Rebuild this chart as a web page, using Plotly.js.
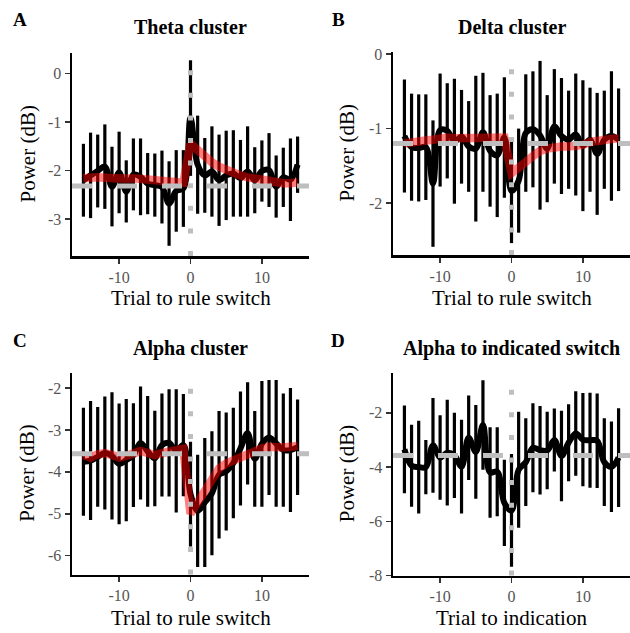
<!DOCTYPE html>
<html><head><meta charset="utf-8">
<script src="https://cdn.plot.ly/plotly-3.0.1.min.js"></script>
<style>html,body{margin:0;padding:0;background:#fff}#chart{width:630px;height:633px}</style>
</head><body><div id="chart"></div>
<script>
// ---- data ----
const trials = [-15,-14,-13,-12,-11,-10,-9,-8,-7,-6,-5,-4,-3,-2,-1,0,1,2,3,4,5,6,7,8,9,10,11,12,13,14,15];

const thetaMean = [-2.2,-2.1,-2.01,-1.92,-2.33,-2.04,-2.43,-2.08,-2.13,-2.27,-2.3,-2.34,-2.68,-2.42,-2.37,-0.92,-1.88,-2.1,-2.02,-2.2,-2.1,-2.06,-2.16,-2.02,-2.2,-2.01,-1.99,-2.33,-2.14,-2.19,-1.88];
const thetaErr  = [0.75,0.88,0.75,0.87,0.82,0.84,0.64,0.74,0.79,0.63,0.65,0.75,0.87,0.84,0.79,1.19,1.01,0.77,0.93,0.94,0.92,0.89,0.79,0.93,0.68,0.63,0.76,0.64,0.61,0.85,0.58];
const thetaFit  = [-2.16,-2.14,-2.14,-2.15,-2.17,-2.18,-2.17,-2.16,-2.17,-2.19,-2.21,-2.2,-2.19,-2.21,-2.25,-1.45,-1.58,-1.72,-1.83,-1.92,-1.99,-2.05,-2.1,-2.14,-2.17,-2.2,-2.22,-2.24,-2.26,-2.26,-2.24];

const deltaMean = [-1.1,-1.25,-1.26,-1.25,-1.74,-1.02,-1.03,-1.17,-1.11,-1.24,-1.27,-1.05,-1.3,-1.36,-1.12,-1.84,-1.7,-1.06,-1.01,-1.09,-1.27,-0.97,-1.1,-1.15,-1.08,-1.23,-1.15,-1.34,-1.15,-1.1,-1.15];
const deltaErr  = [0.76,0.72,0.72,0.71,0.85,0.76,0.64,0.84,0.63,0.61,0.98,0.8,0.75,0.83,0.81,0.7,0.7,0.79,0.78,1.0,0.72,0.77,0.78,0.66,0.82,0.88,0.7,0.82,0.66,0.87,0.69];
const deltaFit  = [-1.2,-1.18,-1.17,-1.16,-1.15,-1.13,-1.12,-1.13,-1.13,-1.14,-1.14,-1.13,-1.12,-1.12,-1.12,-1.6,-1.54,-1.45,-1.37,-1.3,-1.27,-1.25,-1.24,-1.24,-1.23,-1.22,-1.18,-1.16,-1.15,-1.14,-1.13];

const alphaMean = [-3.76,-3.73,-3.64,-3.55,-3.62,-3.81,-3.72,-3.6,-3.31,-3.51,-3.68,-3.36,-3.31,-3.5,-3.36,-4.53,-4.93,-4.73,-4.51,-4.07,-3.99,-3.79,-3.44,-3.08,-3.69,-3.33,-3.18,-3.32,-3.48,-3.48,-3.41];
const alphaErr  = [1.29,1.42,1.19,1.35,1.52,1.44,1.46,1.24,1.35,1.32,1.14,1.23,1.28,1.47,1.22,1.25,1.34,1.54,1.48,1.52,1.41,1.32,1.36,1.22,1.14,1.5,1.37,1.51,1.35,1.48,1.14];
const alphaFit  = [-3.6,-3.66,-3.58,-3.55,-3.6,-3.66,-3.62,-3.58,-3.5,-3.55,-3.6,-3.55,-3.5,-3.48,-3.45,-5.0,-4.73,-4.45,-4.17,-3.92,-3.8,-3.72,-3.64,-3.55,-3.48,-3.44,-3.4,-3.42,-3.42,-3.4,-3.38];

const indicMean = [-3.35,-3.95,-4.0,-4.0,-3.2,-3.65,-3.47,-3.57,-3.98,-2.92,-3.44,-2.45,-4.2,-4.17,-5.32,-5.6,-4.1,-3.82,-3.29,-3.38,-3.39,-3.0,-3.59,-3.1,-2.76,-2.99,-3.01,-3.03,-3.82,-3.99,-3.65];
const indicErr  = [1.62,1.51,1.71,1.0,1.75,1.56,1.95,1.57,1.73,1.56,1.73,1.65,1.67,1.64,1.59,2.08,2.14,1.62,1.64,1.63,1.43,1.16,1.67,1.42,1.56,1.72,1.75,1.74,1.62,1.67,1.82];

const baselineValues = [-2.32, -1.2, -3.57, -3.57];
const switchTrial = 0;

const panelLetters = ["A","B","C","D"];
const panelTitles = ["Theta cluster","Delta cluster","Alpha cluster","Alpha to indicated switch"];
const xAxisTitles = ["Trial to rule switch","Trial to rule switch","Trial to rule switch","Trial to indication"];
const yAxisTitle = "Power (dB)";

const xTickVals = [-10, 0, 10];
const xTickText = ["-10","0","10"];
const yTickValsA = [0,-1,-2,-3];   const yTickTextA = ["0","-1","-2","-3"];
const yTickValsB = [0,-1,-2];      const yTickTextB = ["0","-1","-2"];
const yTickValsC = [-2,-3,-4,-5,-6]; const yTickTextC = ["-2","-3","-4","-5","-6"];
const yTickValsD = [-2,-4,-6,-8];  const yTickTextD = ["-2","-4","-6","-8"];

// ---- layout config ----
const W = 630, H = 633;
const FONT = '"Liberation Serif", "Times New Roman", Times, serif';
const panels = [
  {mean: thetaMean, err: thetaErr, fit: thetaFit, yr: [-3.76, 0.42], tv: yTickValsA, tt: yTickTextA, box: {l:72, r:309, t:53, b:256}},
  {mean: deltaMean, err: deltaErr, fit: deltaFit, yr: [-2.70, 0.03], tv: yTickValsB, tt: yTickTextB, box: {l:393, r:630, t:52, b:255}},
  {mean: alphaMean, err: alphaErr, fit: alphaFit, yr: [-6.45, -1.64], tv: yTickValsC, tt: yTickTextC, box: {l:72, r:309, t:373, b:574.5}},
  {mean: indicMean, err: indicErr, fit: null, yr: [-8.0, -0.53], tv: yTickValsD, tt: yTickTextD, box: {l:393, r:630, t:373, b:575.5}}
];

const traces = [];
const layout = {
  width: W, height: H, margin: {l:0, r:0, t:0, b:0},
  paper_bgcolor: '#fff', plot_bgcolor: '#fff', showlegend: false,
  font: {family: FONT, color: '#000'},
  shapes: [], annotations: []
};

panels.forEach((p, i) => {
  const n = i === 0 ? '' : String(i + 1);
  const xa = 'x' + n, ya = 'y' + n;
  const b = p.box;
  const axCommon = {
    showline: true, linecolor: '#000', linewidth: 2.5, mirror: false,
    ticks: 'outside', ticklen: 5, tickwidth: 1.5, tickcolor: '#333',
    showgrid: false, zeroline: false,
    tickfont: {family: FONT, size: 16, color: '#555'},
    tickmode: 'array', fixedrange: true
  };
  layout['xaxis' + n] = Object.assign({}, axCommon, {
    domain: [b.l / W, b.r / W], range: [-16.6, 16.6], anchor: ya,
    tickvals: xTickVals, ticktext: xTickText
  });
  layout['yaxis' + n] = Object.assign({}, axCommon, {
    domain: [1 - b.b / H, 1 - b.t / H], range: p.yr, anchor: xa,
    tickvals: p.tv, ticktext: p.tt
  });

  traces.push({
    x: trials, y: p.mean, xaxis: xa, yaxis: ya, type: 'scatter', mode: 'markers',
    marker: {size: 1, color: 'rgba(0,0,0,0)'}, hoverinfo: 'skip',
    error_y: {type: 'data', array: p.err, visible: true, color: '#000', thickness: 3.2, width: 0}
  });
  traces.push({
    x: trials, y: p.mean, xaxis: xa, yaxis: ya, type: 'scatter', mode: 'lines',
    line: {color: '#000', width: 6, shape: 'spline', smoothing: 1}
  });
  if (p.fit) {
    traces.push({
      x: trials, y: p.fit, xaxis: xa, yaxis: ya, type: 'scatter', mode: 'lines',
      line: {color: 'rgba(255,0,0,0.5)', width: 8.5}
    });
  }

  layout.shapes.push({
    type: 'line', layer: 'above', xref: xa + ' domain', yref: ya,
    x0: 0, x1: 1, y0: baselineValues[i], y1: baselineValues[i],
    line: {color: '#BEBEBE', width: 5, dash: '20px,25px'}
  });
  layout.shapes.push({
    type: 'line', layer: 'above', xref: xa, yref: ya + ' domain',
    x0: switchTrial, x1: switchTrial, y0: 0, y1: 1,
    line: {color: '#BEBEBE', width: 5, dash: '5px,17.6px'}
  });

  const cx = (b.l + b.r) / 2 / W;
  const topRow = i < 2;
  const letterX = (i % 2 === 0 ? 20 : 338) / W;
  const letterY = 1 - (topRow ? 19 : 340) / H;
  const titleY = 1 - (topRow ? 27 : 348) / H;
  const xtY = 1 - (topRow ? 298 : 618) / H;
  const ytX = (i % 2 === 0 ? 27 : 347) / W;
  const ytY = 1 - (b.t + b.b) / 2 / H;

  layout.annotations.push(
    {text: '<b>' + panelLetters[i] + '</b>', xref: 'paper', yref: 'paper', x: letterX, y: letterY,
     xanchor: 'center', yanchor: 'middle', showarrow: false, font: {family: FONT, size: 19, color: '#000'}},
    {text: '<b>' + panelTitles[i] + '</b>', xref: 'paper', yref: 'paper', x: cx, y: titleY,
     xanchor: 'center', yanchor: 'middle', showarrow: false, font: {family: FONT, size: 20, color: '#000'}},
    {text: xAxisTitles[i], xref: 'paper', yref: 'paper', x: cx, y: xtY,
     xanchor: 'center', yanchor: 'middle', showarrow: false, font: {family: FONT, size: 21, color: '#000'}},
    {text: yAxisTitle, xref: 'paper', yref: 'paper', x: ytX, y: ytY, textangle: -90,
     xanchor: 'center', yanchor: 'middle', showarrow: false, font: {family: FONT, size: 21, color: '#000'}}
  );
});

Plotly.newPlot('chart', traces, layout, {displayModeBar: false, staticPlot: true});
</script>
</body></html>
